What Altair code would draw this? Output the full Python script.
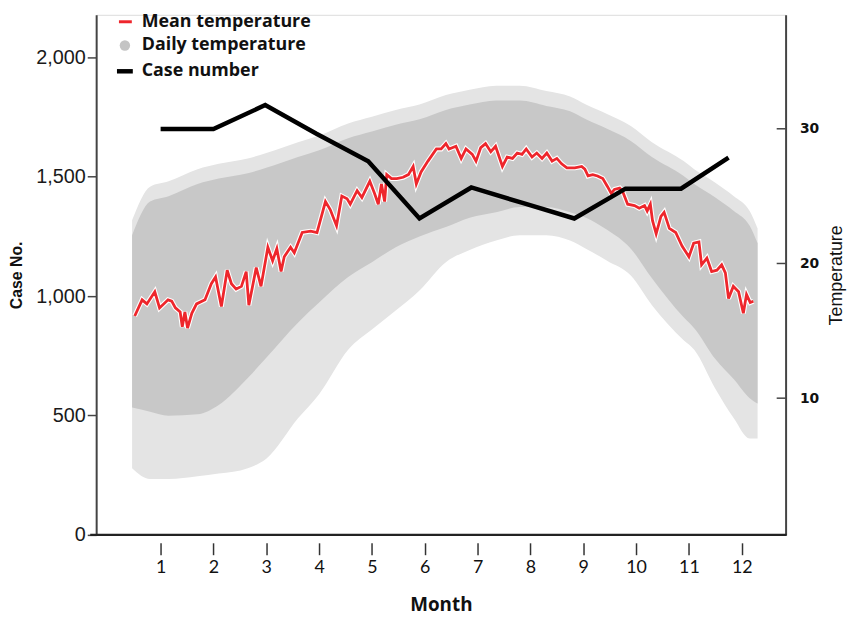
import altair as alt
import pandas as pd

# ---------------- data ----------------
# Mean daily temperature (red line), month position and temperature
mean_month = [0.51, 0.65, 0.74, 0.89, 0.98, 1.14, 1.21, 1.28, 1.37, 1.41, 1.46, 1.51, 1.59, 1.68,
              1.84, 1.96, 2.04, 2.15, 2.26, 2.34, 2.43, 2.53, 2.62, 2.67, 2.81, 2.90, 3.03, 3.12,
              3.20, 3.28, 3.34, 3.46, 3.53, 3.68, 3.84, 3.96, 4.12, 4.21, 4.33, 4.43, 4.53, 4.59,
              4.72, 4.81, 4.96, 5.05, 5.12, 5.18, 5.24, 5.28, 5.37, 5.47, 5.59, 5.69, 5.78, 5.84,
              5.93, 6.06, 6.22, 6.31, 6.40, 6.46, 6.59, 6.69, 6.78, 6.90, 6.97, 7.06, 7.15, 7.25,
              7.34, 7.47, 7.56, 7.66, 7.75, 7.84, 7.92, 8.03, 8.12, 8.22, 8.31, 8.41, 8.50, 8.59,
              8.69, 8.84, 8.97, 9.03, 9.09, 9.18, 9.27, 9.37, 9.46, 9.53, 9.59, 9.69, 9.74, 9.84,
              9.97, 10.06, 10.16, 10.21, 10.27, 10.31, 10.38, 10.47, 10.53, 10.63, 10.75, 10.87,
              11.00, 11.09, 11.19, 11.24, 11.34, 11.43, 11.53, 11.62, 11.69, 11.75, 11.84, 11.94,
              12.03, 12.09, 12.16, 12.22]
mean_temp = [16.1, 17.3, 17.0, 17.9, 16.7, 17.3, 17.2, 16.7, 16.4, 15.3, 16.4, 15.2, 16.3, 17.0,
             17.3, 18.5, 19.0, 16.8, 19.5, 18.5, 18.1, 18.3, 19.4, 16.9, 19.7, 18.3, 21.2, 20.2,
             21.1, 19.4, 20.5, 21.2, 20.8, 22.3, 22.4, 22.3, 24.6, 24.0, 22.8, 25.0, 24.8, 24.4,
             25.4, 24.9, 26.1, 25.2, 24.4, 25.9, 24.6, 26.6, 26.3, 26.3, 26.4, 26.6, 27.2, 25.9,
             26.8, 27.6, 28.5, 28.5, 28.9, 28.5, 28.7, 27.8, 28.5, 28.1, 27.6, 28.6, 28.9, 28.3,
             28.7, 27.2, 27.9, 27.8, 28.2, 28.1, 28.5, 27.9, 28.2, 27.8, 28.2, 27.6, 27.8, 27.4,
             27.1, 27.1, 27.2, 27.0, 26.5, 26.6, 26.5, 26.3, 25.7, 25.2, 25.5, 25.6, 25.4, 24.4,
             24.3, 24.1, 24.3, 23.9, 24.4, 23.2, 22.2, 23.5, 23.8, 22.6, 22.3, 21.3,
             20.5, 21.5, 21.6, 19.9, 20.4, 19.4, 19.5, 19.9, 19.3, 17.4, 18.3, 17.9,
             16.3, 17.7, 17.1, 17.2]

# Daily temperature cloud (grey), envelope
band_month = [0.46, 0.8, 1.15, 1.7, 2.1, 2.65, 3.0, 3.6, 4.0, 4.55, 5.0, 5.45, 5.9, 6.4, 6.85,
              7.35, 7.8, 8.3, 8.75, 9.05, 9.45, 9.9, 10.3, 10.9, 11.1, 11.5, 11.85, 12.15, 12.3]
sparse_high = [23.2, 25.7, 26.1, 27.0, 27.4, 27.8, 28.2, 29.0, 29.5, 30.4, 30.9, 31.4, 31.8, 32.5,
               32.9, 33.2, 33.2, 32.8, 32.4, 31.8, 31.1, 30.2, 29.0, 27.6, 27.0, 26.0, 25.0, 23.9, 22.6]
sparse_low = [4.8, 4.0, 4.0, 4.2, 4.4, 4.8, 5.5, 8.5, 10.3, 13.6, 15.1, 16.5, 18.0, 20.1,
              21.0, 21.7, 22.1, 22.1, 21.7, 21.1, 20.2, 19.1, 16.9, 14.3, 13.6, 10.7, 8.5, 7.0, 7.0]
dense_high = [22.1, 24.6, 25.0, 25.9, 26.3, 26.7, 27.1, 27.9, 28.4, 29.3, 29.8, 30.3, 30.7, 31.4,
              31.8, 32.1, 32.1, 31.7, 31.3, 30.7, 30.0, 29.1, 27.9, 26.5, 25.9, 24.9, 23.9, 22.8, 21.5]
dense_low = [9.3, 9.0, 8.7, 8.8, 9.5, 11.5, 13.0, 15.6, 17.1, 19.0, 20.1, 21.2, 22.0, 22.7,
             23.4, 23.8, 24.2, 24.2, 23.8, 23.4, 22.5, 21.1, 18.9, 16.0, 15.2, 12.9, 11.4, 10.0, 9.6]

# Case number (black line)
case_month = [1, 2, 2.98, 3.95, 4.93, 5.9, 6.88, 7.85, 8.83, 9.8, 10.85, 11.75]
case_value = [1700, 1700, 1800, 1680, 1565, 1325, 1455, 1390, 1325, 1450, 1450, 1580]

month_ticks = list(range(1, 13))
case_ticks = [0, 500, 1000, 1500, 2000]
temp_ticks = [10, 20, 30]

legend_labels = ["Mean temperature", "Daily temperature", "Case number"]

# ---------------- chart ----------------
W, H = 696, 525

mean_df = pd.DataFrame({"month": mean_month, "temp": mean_temp})
band_df = pd.DataFrame({"month": band_month, "temp": sparse_low, "temp_hi": sparse_high,
                        "dlo": dense_low, "dhi": dense_high})
case_df = pd.DataFrame({"month": case_month, "cases": case_value})
tick_df = pd.DataFrame({"temp": temp_ticks})
one = alt.Data(values=[{}])

x_scale = alt.Scale(domain=[-0.22, 12.83], nice=False, zero=False)
temp_scale = alt.Scale(domain=[-0.15, 38.46], nice=False, zero=False)
case_scale = alt.Scale(domain=[0, 2178], nice=False, zero=False)

x_axis = alt.Axis(values=month_ticks, title="Month", domain=False, offset=8, tickSize=12,
                  tickColor="#333", tickWidth=1.5, labelFont="Lato", labelFontSize=18,
                  labelColor="#111", labelPadding=4, labelAngle=0, titleFont="Open Sans",
                  titleFontSize=19, titleFontWeight="bold", titleColor="#111",
                  titlePadding=19, grid=False)

temp_axis = alt.Axis(orient="right", values=temp_ticks, title="Temperature", ticks=False,
                     domainColor="#444", domainWidth=2, labelFont="DejaVu Sans",
                     labelFontSize=14, labelFontWeight="bold", labelColor="#111",
                     labelPadding=14, titleFont="Liberation Sans", titleFontSize=18,
                     titleFontWeight="normal", titleColor="#111", titleAngle=270,
                     titleBaseline="top", titlePadding=9, grid=False)

case_axis = alt.Axis(orient="left", values=case_ticks, format=",d", title="Case No.",
                     domainColor="#444", domainWidth=2, tickColor="#444", tickWidth=1.5,
                     tickSize=9, labelFont="Liberation Sans", labelFontSize=20,
                     labelColor="#1a1a1a", labelPadding=2, titleFont="Liberation Sans",
                     titleFontSize=16, titleFontWeight="bold", titleColor="#111",
                     titlePadding=11, grid=False)

outer = alt.Chart(band_df).mark_area(color="#e4e4e4", interpolate="monotone").encode(
    x=alt.X("month:Q", scale=x_scale, axis=x_axis),
    y=alt.Y("temp:Q", scale=temp_scale, axis=temp_axis),
    y2="temp_hi:Q",
)
inner = alt.Chart(band_df).mark_area(color="#c8c8c8", interpolate="monotone").encode(
    x=alt.X("month:Q", scale=x_scale),
    y=alt.Y("dlo:Q", scale=temp_scale),
    y2="dhi:Q",
)
halo = alt.Chart(mean_df).mark_line(color="white", strokeWidth=5).encode(
    x=alt.X("month:Q", scale=x_scale),
    y=alt.Y("temp:Q", scale=temp_scale),
)
red = alt.Chart(mean_df).mark_line(color="#ee262c", strokeWidth=2.8).encode(
    x=alt.X("month:Q", scale=x_scale),
    y=alt.Y("temp:Q", scale=temp_scale),
)
inticks = alt.Chart(tick_df).mark_rule(color="#444", strokeWidth=1.5).encode(
    y=alt.Y("temp:Q", scale=temp_scale),
    x=alt.value(W - 9),
    x2=alt.value(W),
)
temp_layer = alt.layer(outer, inner, halo, red, inticks)

case_line = alt.Chart(case_df).mark_line(color="black", strokeWidth=4.5).encode(
    x=alt.X("month:Q", scale=x_scale),
    y=alt.Y("cases:Q", scale=case_scale, axis=case_axis),
)

bottom = alt.Chart(one).mark_rule(color="#222", strokeWidth=2.5).encode(
    x=alt.value(-6), x2=alt.value(W + 1), y=alt.value(H)
)

leg_font = dict(font="Open Sans", fontSize=18, fontWeight="bold", color="#111",
                align="left", baseline="middle")
leg_red = alt.Chart(one).mark_rule(color="#ee262c", strokeWidth=3).encode(
    x=alt.value(23), x2=alt.value(36), y=alt.value(7))
leg_dot = alt.Chart(one).mark_point(filled=True, color="#c4c4c4", size=110, opacity=1).encode(
    x=alt.value(29), y=alt.value(31))
leg_blk = alt.Chart(one).mark_rule(color="black", strokeWidth=4.5).encode(
    x=alt.value(21), x2=alt.value(37), y=alt.value(57))
leg_t1 = alt.Chart(one).mark_text(**leg_font).encode(
    x=alt.value(46), y=alt.value(7), text=alt.value(legend_labels[0]))
leg_t2 = alt.Chart(one).mark_text(**leg_font).encode(
    x=alt.value(46), y=alt.value(31), text=alt.value(legend_labels[1]))
leg_t3 = alt.Chart(one).mark_text(**leg_font).encode(
    x=alt.value(46), y=alt.value(57), text=alt.value(legend_labels[2]))

chart = alt.layer(
    temp_layer, case_line, bottom, leg_red, leg_dot, leg_blk, leg_t1, leg_t2, leg_t3
).resolve_scale(y="independent").properties(
    width=W, height=H,
    padding={"left": 89, "top": 4, "right": 64, "bottom": 80},
    autosize=alt.AutoSizeParams(type="none"),
).configure_view(stroke=None).configure(background="white")

chart.save("out.html", embed_options={"renderer": "svg", "actions": False})
